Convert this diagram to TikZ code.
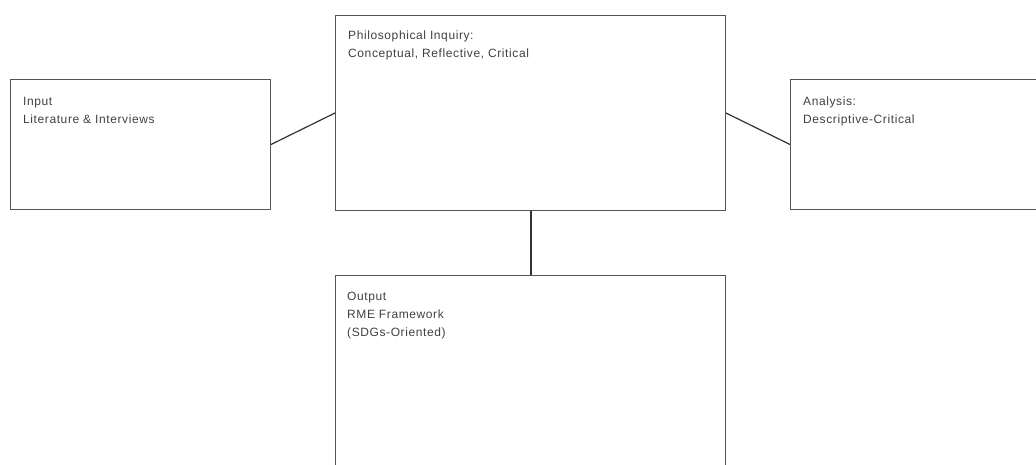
\documentclass[tikz,border=0pt]{standalone}
\usepackage{fontspec}
\setmainfont[LetterSpace=5]{Liberation Sans}
\definecolor{boxgray}{HTML}{555555}
\definecolor{txtgray}{HTML}{404040}
\definecolor{linegray}{HTML}{333333}
\begin{document}
\begin{tikzpicture}[x=1pt,y=-1pt,
  box/.style={draw=boxgray, line width=1pt, rectangle, inner sep=0pt, anchor=north west},
  lbl/.style={anchor=north west, align=left, inner sep=0pt, text=txtgray, font=\fontsize{12}{18}\selectfont},
  link/.style={draw=linegray, line width=1.2pt},
  vlink/.style={draw=linegray, line width=2pt}]
\useasboundingbox (0,0) rectangle (1036,465);
\clip (0,0) rectangle (1036,465);
\node[box, minimum width=260pt, minimum height=130pt] (input) at (10,79) {};
\node[box, minimum width=390pt, minimum height=195pt] (pi) at (335,15) {};
\node[box, minimum width=260pt, minimum height=130pt] (analysis) at (790,79) {};
\node[box, minimum width=390pt, minimum height=200pt] (output) at (335,275) {};
\node[lbl] (inputtxt) at ([xshift=13pt,yshift=-13.4pt]input.north west) {\strut Input\\Literature \& Interviews};
\node[lbl] (pitxt) at ([xshift=13pt,yshift=-11.9pt]pi.north west) {\strut Philosophical Inquiry:\\Conceptual, Reflective, Critical};
\node[lbl] (analysistxt) at ([xshift=13pt,yshift=-13.4pt]analysis.north west) {\strut Analysis:\\Descriptive-Critical};
\node[lbl] (outputtxt) at ([xshift=12pt,yshift=-12.4pt]output.north west) {\strut Output\\RME Framework\\(SDGs-Oriented)};
\draw[link] (input.east) -- (pi.west);
\draw[link] (pi.east) -- (analysis.west);
\draw[vlink] (pi.south) -- (output.north);
\end{tikzpicture}
\end{document}
